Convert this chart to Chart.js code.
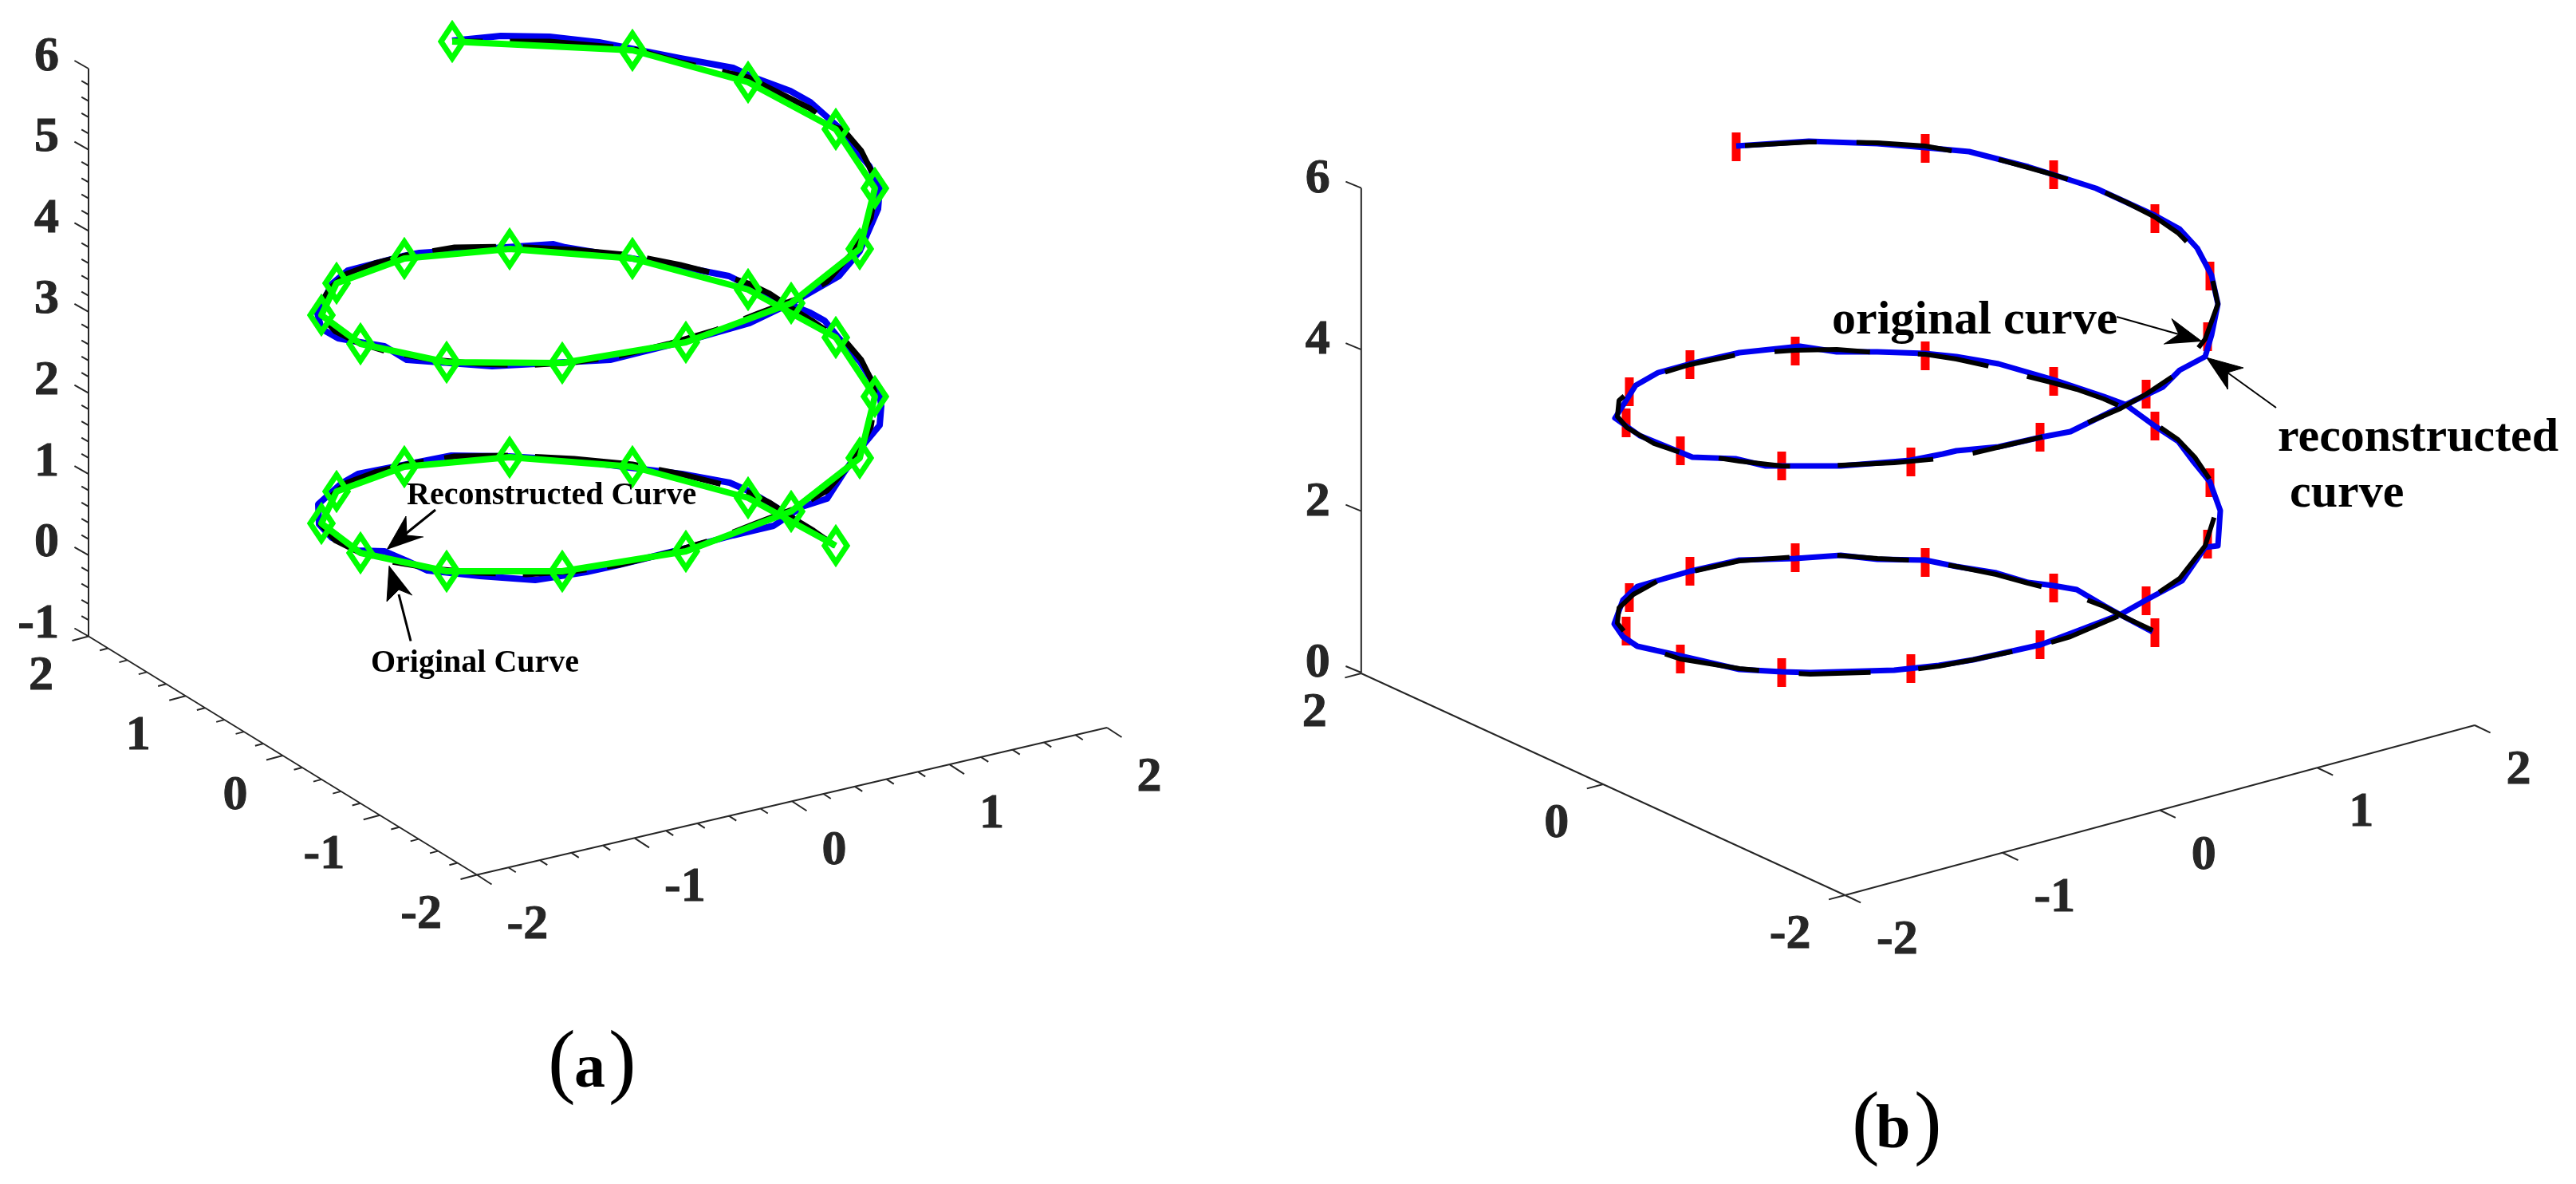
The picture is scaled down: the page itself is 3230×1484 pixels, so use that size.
<!DOCTYPE html>
<html lang="en">
<head>
<meta charset="UTF-8">
<title>Original and reconstructed curves</title>
<script src="https://cdn.jsdelivr.net/npm/chart.js"></script>
<style>
  html, body { margin: 0; padding: 0; background: #fff; }
  #wrap { position: relative; width: 3230px; height: 1484px; overflow: hidden; }
  canvas { position: absolute; top: 0; }
  #chartA { left: 0; }
  #chartB { left: 1615px; }
</style>
</head>
<body>
<div id="wrap">
  <canvas id="chartA" width="1615" height="1484"></canvas>
  <canvas id="chartB" width="1615" height="1484"></canvas>
</div>
<script>
// Curves in projected view units (u across, v up)

// panel (a)
const aBlackU = [10.47,10.20,9.92,9.65,9.38,9.05,8.53,7.93,7.20,6.40,5.70,5.10,4.70,4.35,4.15,4.03,4.02,4.20,4.50,4.90,5.45,6.00,6.60,7.20,7.76,8.38,8.99,9.50,9.98,10.37,10.72,10.92,10.98,10.93,10.80,10.57,
  10.47,10.20,9.92,9.65,9.38,9.05,8.53,7.93,7.20,6.40,5.70,5.10,4.70,4.35,4.15,4.03,4.02,4.20,4.50,4.90,5.45,6.00,6.60,7.20,7.76,8.38,8.99,9.50,9.98,10.37,10.72,10.92,10.98,10.93,10.80,10.57,
  10.47,10.16,9.38,8.53,7.93,6.89,5.67];
const aBlackV = [3.16,3.35,3.52,3.70,3.83,3.93,4.06,4.18,4.25,4.29,4.28,4.18,4.08,3.95,3.78,3.60,3.43,3.23,3.08,2.96,2.87,2.82,2.80,2.84,2.92,3.07,3.25,3.45,3.63,3.85,4.25,4.65,5.03,5.23,5.49,5.76,
  5.78,5.97,6.14,6.32,6.45,6.55,6.68,6.80,6.87,6.91,6.90,6.80,6.70,6.57,6.40,6.22,6.05,5.85,5.70,5.58,5.49,5.44,5.42,5.46,5.54,5.69,5.87,6.07,6.25,6.47,6.87,7.27,7.65,7.85,8.11,8.38,
  8.40,8.64,9.03,9.22,9.39,9.48,9.48];
const aBlueU = [10.47,10.05,9.75,9.40,9.15,8.55,7.89,7.20,6.38,5.66,5.10,4.49,4.28,3.99,4.00,4.16,4.49,4.82,5.10,5.36,6.02,6.71,7.35,7.76,8.45,9.19,9.70,10.06,10.37,10.57,10.83,11.03,11.05,11.03,10.93,10.78,10.52,
  10.34,10.16,9.76,9.14,8.53,7.93,7.09,6.94,6.33,5.26,5.05,4.36,4.16,3.98,4.03,4.24,4.52,4.82,5.10,6.17,7.65,8.73,9.40,9.96,10.52,10.78,11.01,11.03,10.90,10.78,10.52,10.16,9.91,9.45,9.19,8.53,7.51,6.89,6.28,5.67];
const aBlueV = [3.16,3.43,3.63,3.84,3.95,4.06,4.14,4.23,4.28,4.29,4.18,4.06,3.94,3.68,3.43,3.26,3.10,3.09,2.97,2.85,2.78,2.73,2.83,2.92,3.09,3.29,3.41,3.65,3.75,4.06,4.43,4.67,4.91,5.06,5.23,5.47,5.76,
  5.98,6.08,6.24,6.54,6.66,6.76,6.90,6.94,6.90,6.83,6.79,6.61,6.44,6.07,5.88,5.76,5.71,5.66,5.49,5.41,5.49,5.76,5.95,6.22,6.54,6.85,7.38,7.63,7.92,8.06,8.40,8.72,8.86,9.03,9.15,9.27,9.47,9.54,9.55,9.49];
const aSampleU = [10.48,9.38,7.93,6.39,5.07,4.22,4.03,4.52,5.60,7.05,8.60,9.92,10.78,10.97,10.48,9.38,7.93,6.39,5.07,4.22,4.03,4.52,5.60,7.05,8.60,9.92,10.78,10.97,10.48,9.38,7.93,5.67];
const aSampleV = [3.16,3.76,4.15,4.27,4.15,3.84,3.44,3.07,2.84,2.84,3.09,3.59,4.26,5.03,5.77,6.37,6.76,6.88,6.76,6.45,6.05,5.69,5.46,5.45,5.71,6.20,6.88,7.64,8.38,8.97,9.37,9.48];

// panel (b)
const bBlackU = [10.84,10.50,10.23,9.89,9.60,9.28,8.88,8.38,7.99,7.39,6.88,6.36,5.66,5.04,4.64,4.33,4.15,4.13,4.25,4.59,4.92,5.66,6.19,6.55,7.60,8.16,8.59,9.44,9.81,10.44,10.76,11.18,11.50,11.63,11.58,11.37,11.16,10.87,10.50,
  10.23,9.89,9.60,9.28,8.88,8.38,7.99,7.39,6.88,6.36,5.66,5.04,4.64,4.33,4.15,4.13,4.25,4.59,4.92,5.66,6.19,6.55,7.60,8.16,8.59,9.44,9.81,10.44,10.76,11.18,11.50,11.66,11.58,11.37,11.16,10.87,10.50,10.13,9.60,8.88,8.38,7.99,7.39,6.88,6.53,5.66];
const bBlackV = [2.10,2.26,2.40,2.53,2.61,2.69,2.80,2.90,2.97,3.00,3.04,3.02,2.97,2.83,2.72,2.55,2.38,2.19,2.04,1.85,1.74,1.62,1.57,1.55,1.58,1.65,1.73,1.91,2.02,2.29,2.47,2.75,3.16,3.57,3.96,4.27,4.49,4.69,4.88,
  5.00,5.12,5.20,5.28,5.39,5.50,5.56,5.58,5.62,5.61,5.56,5.43,5.31,5.14,4.98,4.78,4.64,4.44,4.33,4.22,4.16,4.15,4.20,4.25,4.32,4.52,4.61,4.88,5.06,5.34,5.75,6.19,6.55,6.87,7.08,7.28,7.47,7.64,7.81,8.01,8.10,8.17,8.21,8.22,8.22,8.17];
const bBlueU = [10.84,10.50,10.23,9.89,9.60,9.28,8.88,8.38,7.99,7.39,6.93,6.36,5.66,5.04,4.38,4.20,4.09,4.20,4.38,4.92,5.66,6.19,6.55,7.60,8.16,8.59,9.44,9.97,10.44,10.76,11.21,11.50,11.66,11.69,11.56,11.34,11.16,10.87,10.50,10.23,9.60,8.91,8.38,7.99,
  7.39,6.88,6.42,5.66,5.04,4.64,4.36,4.10,4.41,5.07,5.61,5.99,6.93,7.80,8.21,8.38,8.91,9.44,9.81,10.34,10.97,11.18,11.50,11.58,11.66,11.58,11.40,11.18,10.87,10.50,10.13,9.60,9.28,8.54,7.99,7.39,6.53,5.62];
const bBlueV = [2.08,2.26,2.41,2.61,2.66,2.70,2.82,2.90,2.98,2.99,3.04,3.00,2.98,2.84,2.65,2.48,2.18,2.02,1.90,1.78,1.61,1.58,1.57,1.60,1.66,1.73,1.92,2.12,2.30,2.48,2.72,3.14,3.16,3.60,3.96,4.23,4.47,4.66,4.93,5.03,5.24,5.44,5.53,5.57,
  5.59,5.59,5.66,5.58,5.44,5.33,5.17,4.76,4.54,4.27,4.25,4.16,4.16,4.23,4.31,4.35,4.40,4.52,4.59,4.85,5.15,5.36,5.53,5.80,6.19,6.55,6.89,7.13,7.30,7.47,7.64,7.81,7.91,8.10,8.15,8.20,8.23,8.17];
const bSampleU = [10.87,9.60,7.99,6.36,5.04,4.28,4.24,4.92,6.19,7.81,9.43,10.76,11.53,11.56,10.87,9.60,7.99,6.36,5.04,4.28,4.24,4.92,6.19,7.81,9.43,10.76,11.53,11.56,10.87,9.60,7.99,5.62];
const bSampleV = [2.07,2.63,2.95,3.01,2.84,2.51,2.09,1.74,1.57,1.62,1.92,2.47,3.18,3.95,4.66,5.22,5.54,5.60,5.43,5.09,4.70,4.35,4.16,4.21,4.52,5.06,5.78,6.54,7.26,7.81,8.14,8.16];

// tick values
const aXTicks = [-2,-1,0,1,2];
const aYTicks = [2,1,0,-1,-2];
const aZTicks = [-1,0,1,2,3,4,5,6];
const bXTicks = [-2,-1,0,1,2];
const bYTicks = [2,0,-2];
const bZTicks = [0,2,4,6];

const TICK_COLOR = '#262626';
const GREEN = '#00ff00';
const BLUE = '#0000f0';

function pts(us, vs) {
  return us.map((u, i) => ({ x: u, y: vs[i] }));
}

// one axis line with its tick marks, the line runs from (u0,v0) to (u1,v1)
function axisData(a) {
  const out = [{ x: a.u0, y: a.v0 }, { x: a.u1, y: a.v1 }, { x: a.u1, y: null }];
  const first = a.ticks[0], last = a.ticks[a.ticks.length - 1];
  const n = Math.round(Math.abs(last - first) / a.minorStep);
  for (let i = 0; i <= n; i++) {
    const t = i / n;
    const val = first + (last - first) * t;
    const major = Math.abs(val - Math.round(val)) < 0.001 && a.ticks.includes(Math.round(val));
    const k = major ? 1 : 0.5;
    const u = a.u0 + (a.u1 - a.u0) * t;
    const v = a.v0 + (a.v1 - a.v0) * t;
    out.push({ x: u, y: v }, { x: u + a.du * k, y: v + a.dv * k }, { x: u, y: null });
  }
  return out;
}

function tickTexts(a) {
  const first = a.ticks[0], last = a.ticks[a.ticks.length - 1];
  return a.ticks.map(val => {
    const t = (val - first) / (last - first);
    return {
      text: String(val),
      u: a.u0 + (a.u1 - a.u0) * t + a.labelDu,
      v: a.v0 + (a.v1 - a.v0) * t + a.labelDv,
      align: a.align,
      font: 'bold 62px "Liberation Serif"',
      color: TICK_COLOR,
      heavy: 1
    };
  });
}

function arrowSets(arrow, shaftWidth) {
  return [
    { data: arrow.head, borderColor: '#000', borderWidth: 1, backgroundColor: '#000', fill: 'shape', pointRadius: 0 },
    { data: arrow.shaft, borderColor: '#000', borderWidth: shaftWidth, fill: false, pointRadius: 0 }
  ];
}

// draws axis labels and annotations as real text at view coordinates
const textPlugin = {
  id: 'viewText',
  afterDatasetsDraw(chart, args, opts) {
    const ctx = chart.ctx;
    ctx.save();
    ctx.textBaseline = 'alphabetic';
    opts.items.forEach(item => {
      const x = chart.scales.x.getPixelForValue(item.u);
      const y = chart.scales.y.getPixelForValue(item.v);
      ctx.font = item.font;
      ctx.fillStyle = item.color;
      ctx.textAlign = item.align || 'left';
      ctx.fillText(item.text, x, y);
      // the original type is a bit heavier than Liberation Serif Bold
      if (item.heavy) {
        ctx.strokeStyle = item.color;
        ctx.lineWidth = item.heavy;
        ctx.strokeText(item.text, x, y);
      }
    });
    ctx.restore();
  }
};

function makeChart(id, datasets, items) {
  return new Chart(document.getElementById(id), {
    type: 'line',
    data: { datasets: datasets },
    options: {
      responsive: false,
      animation: false,
      devicePixelRatio: 1,
      events: [],
      layout: { padding: 0, autoPadding: false },
      elements: { line: { tension: 0, borderJoinStyle: 'round' } },
      scales: {
        x: { type: 'linear', display: false, min: 0, max: 16.15 },
        y: { type: 'linear', display: false, min: -4.84, max: 10 }
      },
      plugins: { legend: { display: false }, tooltip: { enabled: false }, viewText: { items: items } }
    },
    plugins: [textPlugin]
  });
}

// diamond marker of panel (a), taller than wide
function diamondMarker() {
  const c = document.createElement('canvas');
  c.width = 42; c.height = 54;
  const g = c.getContext('2d');
  g.strokeStyle = GREEN;
  g.lineWidth = 7;
  g.lineJoin = 'miter';
  g.beginPath();
  g.moveTo(21, 6); g.lineTo(35, 27); g.lineTo(21, 48); g.lineTo(7, 27); g.closePath();
  g.stroke();
  return c;
}

// panel (a)
const aAxes = [
  { ticks: aZTicks, minorStep: 0.2, u0: 1.11, v0: 2.025, u1: 1.11, v1: 9.14, du: -0.176, dv: 0.10, labelDu: -0.37, labelDv: -0.015, align: 'right' },
  { ticks: aYTicks, minorStep: 0.2, u0: 1.11, v0: 2.025, u1: 5.98, v1: -0.965, du: -0.205, dv: -0.055, labelDu: -0.44, labelDv: -0.665, align: 'right' },
  { ticks: aXTicks, minorStep: 0.2, u0: 5.98, v0: -0.965, u1: 13.88, v1: 0.88, du: 0.185, dv: -0.12, labelDu: 0.375, labelDv: -0.79, align: 'left' }
];
const aArrows = [
  { shaft: [{x:5.46,y:3.61},{x:5.05,y:3.28}], head: [{x:4.85,y:3.11},{x:5.09,y:3.53},{x:5.10,y:3.29},{x:5.31,y:3.27}] },
  { shaft: [{x:5.15,y:1.965},{x:5.00,y:2.55}], head: [{x:4.88,y:2.91},{x:4.85,y:2.46},{x:5.00,y:2.61},{x:5.17,y:2.54}] }
];
const aTexts = [
  { text: 'Reconstructed Curve', u: 5.10, v: 3.68, font: 'bold 40px "Liberation Serif"', color: '#000' },
  { text: 'Original Curve', u: 4.65, v: 1.585, font: 'bold 40px "Liberation Serif"', color: '#000' },
  { text: '(', u: 6.87, v: -3.63, font: '104px "Liberation Serif"', color: '#000' },
  { text: 'a', u: 7.20, v: -3.62, font: 'bold 78px "Liberation Serif"', color: '#000' },
  { text: ')', u: 7.63, v: -3.63, font: '104px "Liberation Serif"', color: '#000' }
].concat(aAxes.flatMap(tickTexts));

const aSets = [
  { data: pts(aSampleU, aSampleV), borderColor: GREEN, borderWidth: 8, pointStyle: diamondMarker(), pointRadius: 20 },
  { data: pts(aBlackU, aBlackV), borderColor: '#000', borderWidth: 7, borderDash: [130, 34, 80, 26], pointRadius: 0 },
  { data: pts(aBlueU, aBlueV), borderColor: BLUE, borderWidth: 8, pointRadius: 0 }
].concat(aArrows.flatMap(a => arrowSets(a, 3)))
 .concat(aAxes.map(a => ({ data: axisData(a), borderColor: TICK_COLOR, borderWidth: 2, pointRadius: 0, spanGaps: false })));

// panel (b)
const bAxes = [
  { ticks: bZTicks, minorStep: 2, u0: 0.918, v0: 1.57, u1: 0.918, v1: 7.643, du: -0.194, dv: 0.08, labelDu: -0.39, labelDv: -0.05, align: 'right' },
  { ticks: bYTicks, minorStep: 2, u0: 0.918, v0: 1.56, u1: 6.985, v1: -1.22, du: -0.204, dv: -0.054, labelDu: -0.43, labelDv: -0.66, align: 'right' },
  { ticks: bXTicks, minorStep: 1, u0: 6.985, v0: -1.22, u1: 14.88, v1: 0.91, du: 0.196, dv: -0.094, labelDu: 0.395, labelDv: -0.73, align: 'left' }
];
const bArrows = [
  { shaft: [{x:10.39,y:6.03},{x:11.17,y:5.81}], head: [{x:11.46,y:5.72},{x:11.08,y:6.005},{x:11.17,y:5.81},{x:10.98,y:5.685}] },
  { shaft: [{x:12.39,y:4.89},{x:11.78,y:5.33}], head: [{x:11.51,y:5.52},{x:11.98,y:5.39},{x:11.78,y:5.33},{x:11.78,y:5.12}] }
];
const bTexts = [
  { text: 'original curve', u: 6.82, v: 5.825, font: 'bold 60px "Liberation Serif"', color: '#000' },
  { text: 'reconstructed', u: 12.41, v: 4.35, font: 'bold 60px "Liberation Serif"', color: '#000' },
  { text: 'curve', u: 12.56, v: 3.65, font: 'bold 60px "Liberation Serif"', color: '#000' },
  { text: '(', u: 7.07, v: -4.40, font: '104px "Liberation Serif"', color: '#000' },
  { text: 'b', u: 7.37, v: -4.38, font: 'bold 78px "Liberation Serif"', color: '#000' },
  { text: ')', u: 7.85, v: -4.40, font: '104px "Liberation Serif"', color: '#000' }
].concat(bAxes.flatMap(tickTexts));

const bSets = [
  { data: pts(bBlackU, bBlackV), borderColor: '#000', borderWidth: 6, borderDash: [90, 60, 120, 50], pointRadius: 0 },
  { data: pts(bBlueU, bBlueV), borderColor: BLUE, borderWidth: 7, pointRadius: 0 },
  { data: pts(bSampleU, bSampleV), showLine: false, pointStyle: 'line', rotation: 90, pointRadius: 18, pointBorderWidth: 11, pointBorderColor: '#ff0000', borderColor: '#ff0000' }
].concat(bArrows.flatMap(a => arrowSets(a, 2)))
 .concat(bAxes.map(a => ({ data: axisData(a), borderColor: TICK_COLOR, borderWidth: 2, pointRadius: 0, spanGaps: false })));

makeChart('chartA', aSets, aTexts);
makeChart('chartB', bSets, bTexts);
</script>
</body>
</html>
